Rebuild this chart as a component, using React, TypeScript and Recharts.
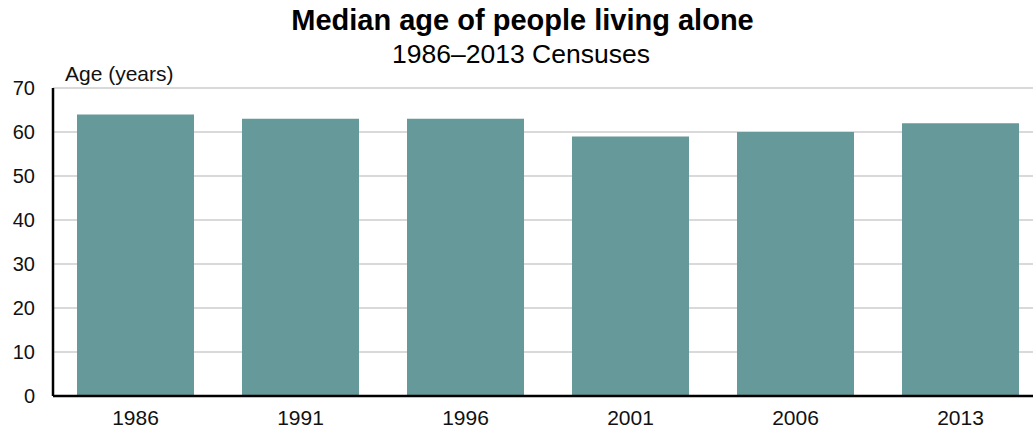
import React from "react";
import { BarChart, Bar, XAxis, YAxis, CartesianGrid } from "recharts";

const years = ["1986", "1991", "1996", "2001", "2006", "2013"];
const medianAge = [64, 63, 63, 59, 60, 62];
const yTicks = [0, 10, 20, 30, 40, 50, 60, 70];

const data = years.map((year, i) => ({ year, age: medianAge[i] }));

const FONT = '"Liberation Sans", Arial, Helvetica, sans-serif';

const XTick = ({ x, y, payload }: any) => (
  <text x={x} y={y + 29} textAnchor="middle" fontSize={21} fill="#111" fontFamily={FONT}>
    {payload.value}
  </text>
);

const YTick = ({ x, y, payload }: any) => (
  <text x={x - 18} y={y + 7} textAnchor="end" fontSize={20} fill="#111" fontFamily={FONT}>
    {payload.value}
  </text>
);

export default function App() {
  return (
    <div
      style={{
        position: "fixed",
        left: 0,
        top: 0,
        width: 1033,
        height: 430,
        overflow: "hidden",
        background: "#fff",
        fontFamily: FONT,
      }}
    >
      <div
        style={{
          position: "absolute",
          left: 0,
          width: 1045,
          top: 4,
          textAlign: "center",
          fontSize: 29,
          fontWeight: "bold",
          color: "#000",
          lineHeight: "33px",
        }}
      >
        Median age of people living alone
      </div>
      <div
        style={{
          position: "absolute",
          left: 0,
          width: 1042,
          top: 39,
          textAlign: "center",
          fontSize: 26.5,
          color: "#000",
          lineHeight: "30px",
        }}
      >
        1986–2013 Censuses
      </div>
      <div
        style={{
          position: "absolute",
          left: 65,
          top: 62,
          fontSize: 21,
          color: "#111",
          lineHeight: "24px",
        }}
      >
        Age (years)
      </div>
      <BarChart
        width={1043}
        height={430}
        data={data}
        margin={{ top: 88, right: 0, bottom: 0, left: 0 }}
        barSize={117}
      >
        <CartesianGrid vertical={false} stroke="#d9d9d9" strokeWidth={2} />
        <XAxis
          dataKey="year"
          height={34}
          tickLine={false}
          tickSize={0}
          tickMargin={0}
          axisLine={{ stroke: "#000", strokeWidth: 2.5 }}
          tick={<XTick />}
          interval={0}
        />
        <YAxis
          width={53}
          domain={[0, 70]}
          ticks={yTicks}
          tickLine={false}
          tickSize={0}
          tickMargin={0}
          axisLine={{ stroke: "#000", strokeWidth: 2.5 }}
          tick={<YTick />}
          interval={0}
        />
        <Bar dataKey="age" fill="#669999" isAnimationActive={false} />
      </BarChart>
    </div>
  );
}
